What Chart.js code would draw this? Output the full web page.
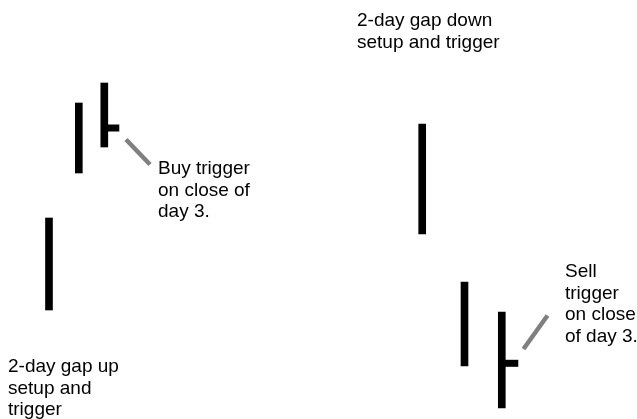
<!DOCTYPE html>
<html>
<head>
<meta charset="utf-8">
<script src="https://cdn.jsdelivr.net/npm/chart.js@4"></script>
<style>
  html, body { margin: 0; padding: 0; background: #fff; }
  #wrap { width: 637px; height: 419px; }
</style>
</head>
<body>
<div id="wrap"><canvas id="chart" width="637" height="419"></canvas></div>
<script>
// Bar positions along the time axis, and prices (high / low) for each day
const barX = [49, 78.8, 104.3, 422.2, 464.5, 501.8];
const barHigh = [201, 316, 336, 295, 137, 107];
const barLow = [109, 246, 272, 185, 53, 11];

// Closing ticks on day 3 of each setup
const closeX = [104.3, 501.8];
const closeEndX = [119.3, 518.3];
const closeValue = [291, 55.7];

// Grey pointer lines from the trigger bar to its note
const pointerFrom = [{ x: 126, y: 279.5 }, { x: 523.5, y: 70 }];
const pointerTo = [{ x: 150, y: 254.5 }, { x: 547.5, y: 103.5 }];

// Notes
const noteText = [
    ['2-day gap up', 'setup and', 'trigger'],
    ['Buy trigger', 'on close of', 'day 3.'],
    ['2-day gap down', 'setup and trigger'],
    ['Sell', 'trigger', 'on close', 'of day 3.']
];
const noteX = [8, 158, 357, 565];
const noteY = [47, 245, 393, 142];

const ctx = document.getElementById('chart').getContext('2d');

const datasets = [{
    type: 'bar',
    data: barX.map((x, i) => ({ x: x, y: [barLow[i], barHigh[i]] })),
    backgroundColor: '#000',
    borderWidth: 0,
    barThickness: 7,
    order: 2
}];

closeX.forEach((x, i) => {
    datasets.push({
        type: 'line',
        data: [{ x: x, y: closeValue[i] }, { x: closeEndX[i], y: closeValue[i] }],
        borderColor: '#000',
        borderWidth: 7,
        borderCapStyle: 'butt',
        pointRadius: 0,
        order: 1
    });
});

pointerFrom.forEach((p, i) => {
    datasets.push({
        type: 'line',
        data: [p, pointerTo[i]],
        borderColor: '#808080',
        borderWidth: 4.5,
        borderCapStyle: 'butt',
        pointRadius: 0,
        order: 1
    });
});

// Draw the notes at their places on the chart's scales
const notesPlugin = {
    id: 'notes',
    afterDraw(chart) {
        const c = chart.ctx;
        const xs = chart.scales.x;
        const ys = chart.scales.y;
        c.save();
        c.fillStyle = '#000';
        c.font = '19px "Liberation Sans", Arial, Helvetica, sans-serif';
        c.textAlign = 'left';
        c.textBaseline = 'alphabetic';
        noteText.forEach((lines, i) => {
            const px = xs.getPixelForValue(noteX[i]);
            const py = ys.getPixelForValue(noteY[i]);
            lines.forEach((line, j) => c.fillText(line, px, py + j * 21.7));
        });
        c.restore();
    }
};

new Chart(ctx, {
    data: { datasets: datasets },
    options: {
        responsive: false,
        animation: false,
        layout: { padding: 0 },
        scales: {
            x: { type: 'linear', min: 0, max: 637, offset: false, display: false },
            y: { type: 'linear', min: 0, max: 419, display: false }
        },
        plugins: {
            legend: { display: false },
            tooltip: { enabled: false }
        }
    },
    plugins: [notesPlugin]
});
</script>
</body>
</html>
